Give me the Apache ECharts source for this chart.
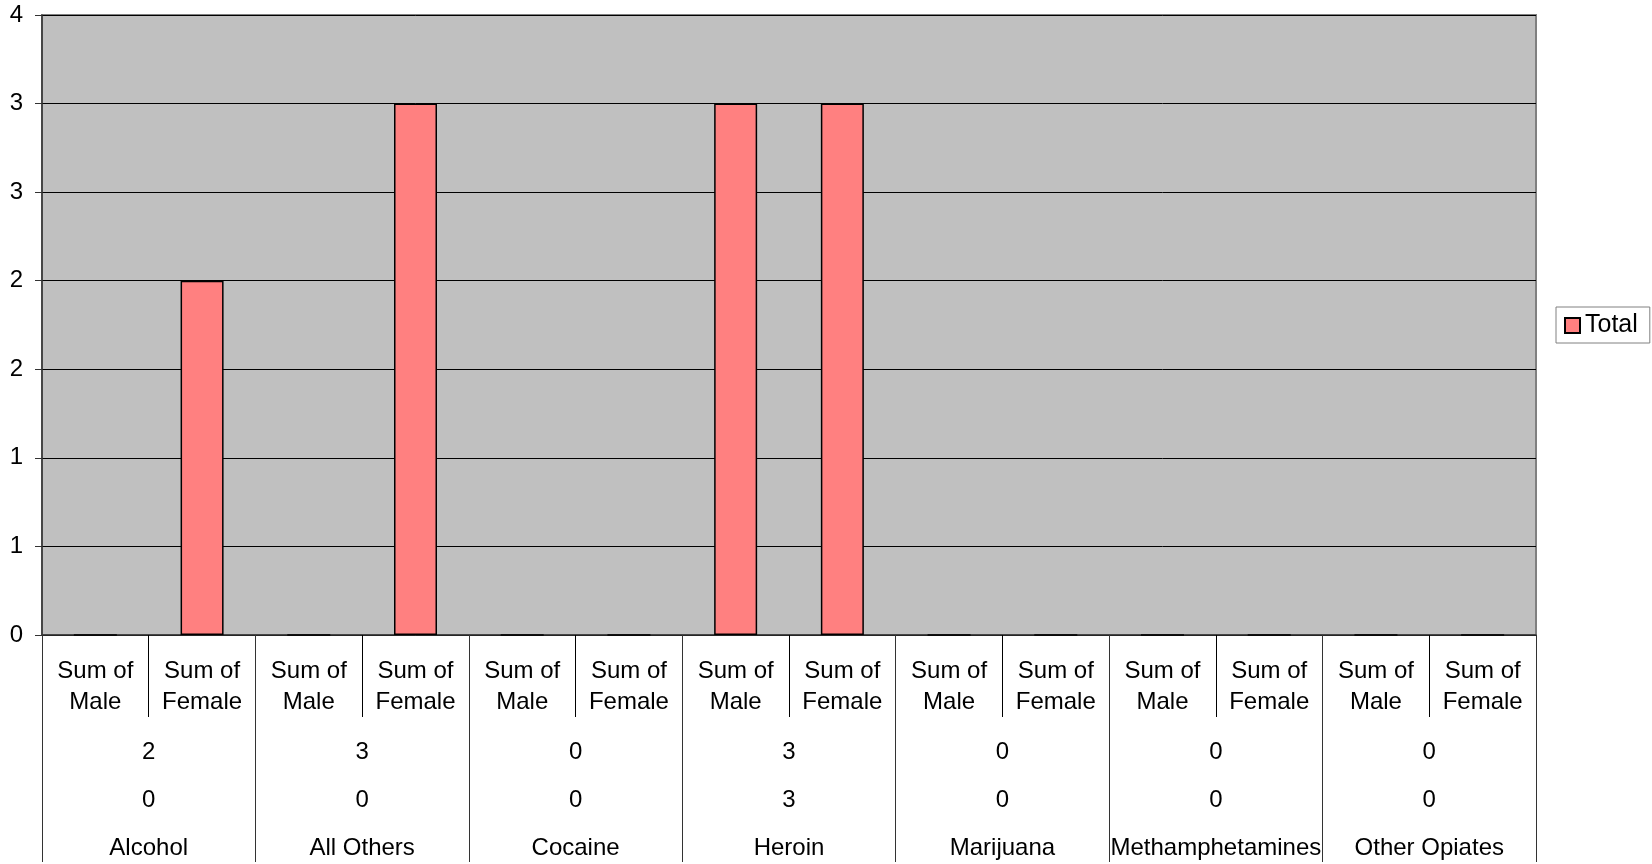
<!DOCTYPE html>
<html>
<head>
<meta charset="utf-8">
<script src="https://cdn.jsdelivr.net/npm/echarts@6/dist/echarts.min.js"></script>
<style>
html,body{margin:0;padding:0;background:#fff;}
#chart{width:1652px;height:864px;}
</style>
</head>
<body>
<div id="chart"></div>
<script>
var drugs = ['Alcohol', 'All Others', 'Cocaine', 'Heroin', 'Marijuana', 'Methamphetamines', 'Other Opiates'];
var rowA = ['2', '3', '0', '3', '0', '0', '0'];
var rowB = ['0', '0', '0', '3', '0', '0', '0'];
var subLabels = ['Sum of\nMale', 'Sum of\nFemale'];
var maleValues = [0, 0, 0, 3, 0, 0, 0];
var femaleValues = [2, 3, 0, 3, 0, 0, 0];
var seriesName = 'Total';
var yMin = 0, yMax = 3.5, yStep = 0.5;

var subCats = [];
var totals = [];
for (var i = 0; i < drugs.length; i++) {
  subCats.push(subLabels[0] + '|' + i);
  subCats.push(subLabels[1] + '|' + i);
  totals.push(maleValues[i]);
  totals.push(femaleValues[i]);
}

var FONT = "'Liberation Sans', Arial, sans-serif";
var chart = echarts.init(document.getElementById('chart'), null, {renderer: 'canvas'});

function groupAxis(data, margin, tickLen) {
  return {
    type: 'category',
    gridIndex: 0,
    position: 'bottom',
    data: data,
    axisLine: {show: false},
    axisTick: {show: tickLen > 0, length: tickLen, interval: 0, lineStyle: {color: '#333', width: 1}},
    axisLabel: {interval: 0, margin: margin, fontSize: 24, lineHeight: 24, color: '#000', fontFamily: FONT},
    splitLine: {show: false}
  };
}

chart.setOption({
  animation: false,
  backgroundColor: '#fff',
  textStyle: {fontFamily: FONT},
  grid: {
    left: 42, top: 15, right: 116, bottom: 229,
    show: true, backgroundColor: '#C0C0C0', borderColor: '#808080', borderWidth: 2
  },
  legend: {
    left: 1556, top: 307,
    orient: 'vertical',
    padding: [6, 12, 5, 8],
    backgroundColor: '#fff',
    borderColor: '#808080', borderWidth: 1, borderRadius: 0,
    itemWidth: 15, itemHeight: 15, icon: 'rect',
    itemStyle: {color: '#FF8080', borderColor: '#000', borderWidth: 2},
    textStyle: {fontSize: 25, color: '#000', fontFamily: FONT},
    data: [seriesName]
  },
  xAxis: [
    {
      type: 'category',
      gridIndex: 0,
      position: 'bottom',
      data: subCats,
      axisLine: {show: true, lineStyle: {color: '#333', width: 1.5}},
      axisTick: {show: true, length: 82, interval: 0, lineStyle: {color: '#000', width: 1}},
      axisLabel: {
        interval: 0, margin: 21, fontSize: 24, lineHeight: 31, color: '#000', fontFamily: FONT,
        formatter: function (v) { return v.split('|')[0]; }
      },
      splitLine: {show: false}
    },
    groupAxis(rowA, 105, 227),
    groupAxis(rowB, 153, 0),
    groupAxis(drugs, 201, 0)
  ],
  yAxis: {
    type: 'value',
    min: yMin, max: yMax, interval: yStep,
    axisLine: {show: true, lineStyle: {color: '#333', width: 1.5}},
    axisTick: {show: true, length: 7, lineStyle: {color: '#333'}},
    axisLabel: {
      margin: 19, fontSize: 24, color: '#000', fontFamily: FONT,
      formatter: function (v) { return String(Math.round(v)); }
    },
    splitLine: {show: true, lineStyle: {color: '#000', width: 1}}
  },
  series: [{
    name: seriesName,
    type: 'bar',
    xAxisIndex: 0,
    data: totals,
    barWidth: 43,
    itemStyle: {color: '#FF8080', borderColor: '#000', borderWidth: 1.5}
  }]
});
</script>
</body>
</html>
